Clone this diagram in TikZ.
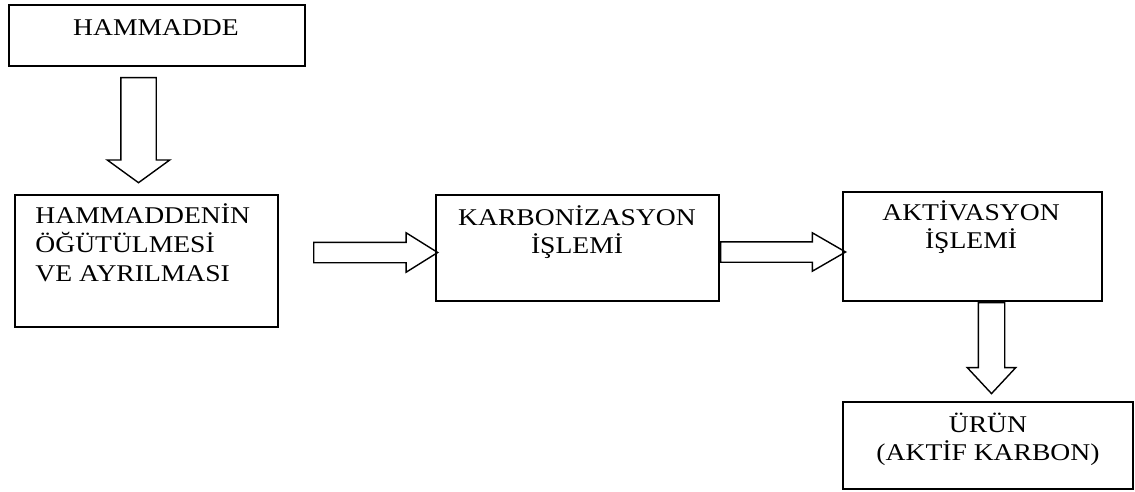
\documentclass[tikz,border=0pt]{standalone}
\usepackage{fontspec}
\setmainfont[FakeStretch=1.15]{Liberation Serif}
\usetikzlibrary{shapes.arrows}

\begin{document}
\begin{tikzpicture}[
    x=0.5pt, y=-0.5pt,
    stagebox/.style={draw, line width=0.9pt, inner sep=0pt},
    stagetext/.style={inner sep=0pt, font=\fontsize{12}{14}\selectfont, align=center},
    flowarrow/.style={single arrow, draw, line width=0.7pt, anchor=tail,
        single arrow head indent=0pt},
]
    \useasboundingbox (0,0) rectangle (1135,492);

    % process boxes
    \node[stagebox, minimum width=148pt, minimum height=30.5pt] (raw) at (157,35.5) {};
    \node[stagebox, minimum width=131.5pt, minimum height=66pt] (grind) at (146.5,261) {};
    \node[stagebox, minimum width=141.5pt, minimum height=53pt] (carb) at (577.5,248) {};
    \node[stagebox, minimum width=129.5pt, minimum height=54.5pt] (activ) at (972.5,246.5) {};
    \node[stagebox, minimum width=145pt, minimum height=43.5pt] (product) at (988,445.5) {};

    % box texts (base = last line)
    \node[stagetext, anchor=base] (rawtext) at (156,36) {HAMMADDE};
    \node[stagetext, anchor=base west, align=left, font=\fontsize{12}{14.5}\selectfont] (grindtext) at (35,281)
        {HAMMADDENİN\\ÖĞÜTÜLMESİ\\VE AYRILMASI};
    \node[stagetext, anchor=base] (carbtext) at (577,253) {KARBONİZASYON\\İŞLEMİ};
    \node[stagetext, anchor=base, font=\fontsize{12}{13.5}\selectfont] (activtext) at (971,248) {AKTİVASYON\\İŞLEMİ};
    \node[stagetext, anchor=base] (producttext) at (988,460) {ÜRÜN\\(AKTİF KARBON)};

    % block arrows (placed by their tails)
    \node[flowarrow, shape border rotate=270, inner sep=8.5pt, minimum height=52.5pt,
        single arrow head extend=6.75pt, single arrow tip angle=108] (rawgrind) at (138.5,77) {};
    \node[flowarrow, inner sep=4.75pt, minimum height=62pt,
        single arrow head extend=4.75pt, single arrow tip angle=64] (grindcarb) at (313,252.5) {};
    \node[flowarrow, inner sep=4.75pt, minimum height=62.5pt,
        single arrow head extend=4.5pt, single arrow tip angle=60] (carbactiv) at (carb.east |- 0,252) {};
    \node[flowarrow, shape border rotate=270, inner sep=6.25pt, minimum height=45.5pt,
        single arrow head extend=5.5pt, single arrow tip angle=86] (activproduct) at (activ.south -| 991.5,0) {};
\end{tikzpicture}
\end{document}
